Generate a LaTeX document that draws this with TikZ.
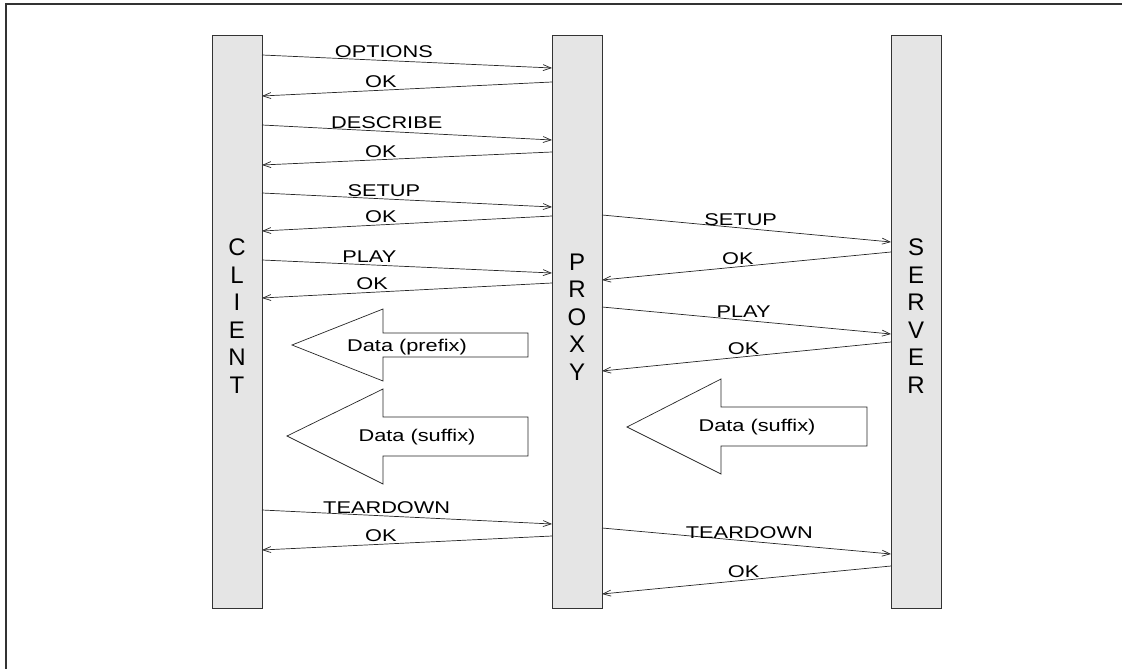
\documentclass[tikz,border=0pt]{standalone}
\usepackage{fontspec}
\setmainfont{Liberation Sans}
\newfontfamily\msgfont[FakeStretch=1.28]{Liberation Sans}
\usepackage{tikz}
\usetikzlibrary{arrows.meta}
\definecolor{lifegray}{RGB}{229,229,229}

\begin{document}
\begin{tikzpicture}[x=1pt, y=-1pt,
  lifeline/.style={rectangle, draw=black!80, line width=1pt, fill=lifegray, outer sep=0pt,
    minimum width=50pt, minimum height=572pt, anchor=north west},
  lifename/.style={align=center, font=\fontsize{24}{27.5}\selectfont},
  msg/.style={-{Straight Barb[length=8pt,width=6pt]}, black!85, line width=0.7pt},
  msgtext/.style={font=\msgfont\fontsize{17}{20}\selectfont, inner sep=2pt, above, black},
  datashape/.style={draw=black!85, fill=white, line width=0.7pt},
  datatext/.style={font=\msgfont\fontsize{17}{20}\selectfont, inner sep=0pt}]
\useasboundingbox (0,0) rectangle (1122,669);
% Frame
\draw[line width=2pt, black!80] (6,669) -- (6,4.5) -- (1122,4.5);
% Define all the nodes.
% Client
\node[lifeline] (client) at (212,36) {};
\node[lifename] (clientname) at (237,316) {C\\L\\I\\E\\N\\T};
% Proxy
\node[lifeline] (proxy) at (552,36) {};
\node[lifename] (proxyname) at (577,317) {P\\R\\O\\X\\Y};
% Server
\node[lifeline] (server) at (891,36) {};
\node[lifename] (servername) at (916,316) {S\\E\\R\\V\\E\\R};
% Data (prefix)
\draw[datashape] (292,345) -- (383,309) -- (383,333) -- (528,333) -- (528,357) -- (383,357) -- (383,381) -- cycle;
\node[datatext] (prefix) at (407,347) {Data (prefix)};
% Data (suffix), client side
\draw[datashape] (287,436) -- (383,389) -- (383,417) -- (528,417) -- (528,456) -- (383,456) -- (383,484) -- cycle;
\node[datatext] (suffixc) at (417,437) {Data (suffix)};
% Data (suffix), server side
\draw[datashape] (627,427) -- (721,379) -- (721,407) -- (867,407) -- (867,446) -- (721,446) -- (721,474) -- cycle;
\node[datatext] (suffixs) at (757,427) {Data (suffix)};
% Draw the arrows
\draw[msg] (client.east |- 0,55) -- node[msgtext, pos=0.42] {OPTIONS} (proxy.west |- 0,68);
\draw[msg] (proxy.west |- 0,82) -- node[msgtext, pos=0.59] {OK} (client.east |- 0,96);
\draw[msg] (client.east |- 0,125) -- node[msgtext, pos=0.43] {DESCRIBE} (proxy.west |- 0,140);
\draw[msg] (proxy.west |- 0,152) -- node[msgtext, pos=0.59] {OK} (client.east |- 0,165);
\draw[msg] (client.east |- 0,193) -- node[msgtext, pos=0.42] {SETUP} (proxy.west |- 0,207);
\draw[msg] (proxy.west |- 0,216) -- node[msgtext, pos=0.59] {OK} (client.east |- 0,231);
\draw[msg] (client.east |- 0,260) -- node[msgtext, pos=0.37] {PLAY} (proxy.west |- 0,273);
\draw[msg] (proxy.west |- 0,283) -- node[msgtext, pos=0.62] {OK} (client.east |- 0,298);
\draw[msg] (proxy.east |- 0,215) -- node[msgtext, pos=0.48] {SETUP} (server.west |- 0,242);
\draw[msg] (server.west |- 0,252) -- node[msgtext, pos=0.53] {OK} (proxy.east |- 0,280);
\draw[msg] (proxy.east |- 0,307) -- node[msgtext, pos=0.49] {PLAY} (server.west |- 0,334);
\draw[msg] (server.west |- 0,342) -- node[msgtext, pos=0.51] {OK} (proxy.east |- 0,371);
\draw[msg] (client.east |- 0,510) -- node[msgtext, pos=0.43] {TEARDOWN} (proxy.west |- 0,524);
\draw[msg] (proxy.west |- 0,536) -- node[msgtext, pos=0.59] {OK} (client.east |- 0,550);
\draw[msg] (proxy.east |- 0,528) -- node[msgtext, pos=0.51] {TEARDOWN} (server.west |- 0,554);
\draw[msg] (server.west |- 0,566) -- node[msgtext, pos=0.51] {OK} (proxy.east |- 0,594);
\end{tikzpicture}
\end{document}
